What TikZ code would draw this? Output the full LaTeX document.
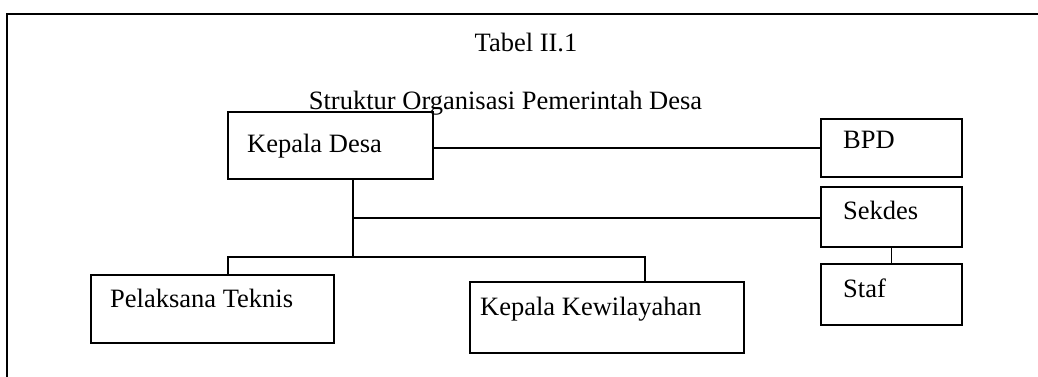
\documentclass[tikz,border=0pt]{standalone}
\usepackage{fontspec}
\setmainfont{Liberation Serif}
\begin{document}
\begin{tikzpicture}[x=1pt,y=-1pt,
  box/.style={draw, rectangle, line width=1.5pt, inner sep=0pt},
  lbl/.style={anchor=base west, inner sep=0pt, font=\fontsize{26.5}{30}\selectfont},
  ttl/.style={anchor=base, inner sep=0pt, font=\fontsize{26.5}{30}\selectfont},
  conn/.style={line width=1.5pt}]
\useasboundingbox (0,0) rectangle (1038,377);
\draw[line width=2pt] (1045,14) -- (7,14) -- (7,385);
\node[ttl] (t1) at (526,52) {Tabel II.1};
\node[ttl] (t2) at (505.5,110) {Struktur Organisasi Pemerintah Desa};
% boxes
\node[box, minimum width=205pt, minimum height=67pt] (kd) at (330.5,145.5) {};
\node[box, minimum width=141pt, minimum height=58pt] (bpd) at (891.5,148) {};
\node[box, minimum width=141pt, minimum height=60pt] (sek) at (891.5,217) {};
\node[box, minimum width=141pt, minimum height=61pt] (staf) at (891.5,294.5) {};
\node[box, minimum width=243pt, minimum height=68pt] (pt) at (212.5,309) {};
\node[box, minimum width=274pt, minimum height=71pt] (kk) at (607,317.5) {};
% labels
\node[lbl] (kdt) at (247,153) {Kepala Desa};
\node[lbl] (bpdt) at (843,149) {BPD};
\node[lbl] (sekt) at (843,219) {Sekdes};
\node[lbl] (staft) at (843,297) {Staf};
\node[lbl] (ptt) at (110,307) {Pelaksana Teknis};
\node[lbl] (kkt) at (480,315) {Kepala Kewilayahan};
% connectors
\coordinate (j1) at (353,218);
\coordinate (j2) at (353,257);
\coordinate (bl) at (228,257);
\coordinate (br) at (645,257);
\draw[conn] (kd.east |- bpd.west) -- (bpd.west);
\draw[conn] (kd.south -| j1) -- (j2);
\draw[conn] (j1) -- (j1 -| sek.west);
\draw[conn] (pt.north -| bl) -- (bl) -- (br) -- (br |- kk.north);
\draw[conn] (sek.south) -- (staf.north);
\end{tikzpicture}
\end{document}
